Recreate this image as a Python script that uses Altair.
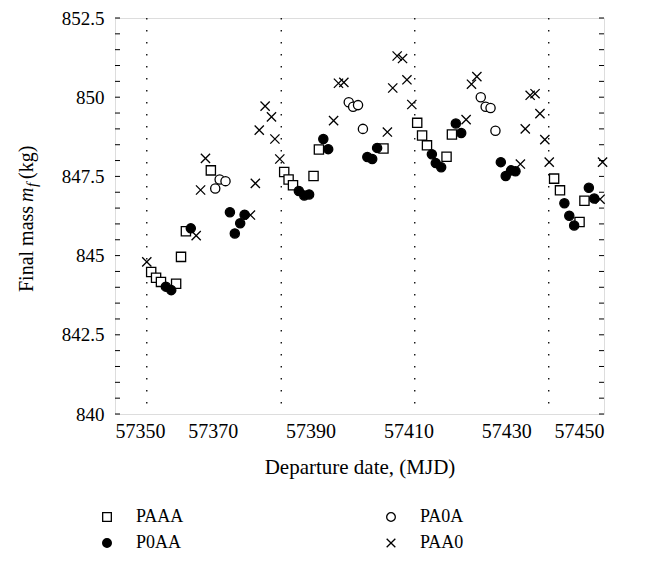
import altair as alt
import pandas as pd

# ---- data ----
PAAA_x = [57357.4, 57358.4, 57359.4, 57362.5, 57363.5, 57364.5, 57369.6, 57384.6, 57385.5, 57386.4,
          57390.6, 57391.7, 57404.9, 57411.8, 57412.8, 57413.8, 57417.8, 57418.9, 57439.8, 57441.0,
          57445.0, 57446.0]
PAAA_y = [844.48, 844.30, 844.17, 844.11, 844.96, 845.77, 847.69, 847.64, 847.40, 847.22,
          847.51, 848.35, 848.38, 849.19, 848.79, 848.48, 848.12, 848.82, 847.43, 847.06,
          846.06, 846.73]

P0AA_x = [57360.4, 57361.5, 57365.5, 57373.5, 57374.5, 57375.6, 57376.5, 57387.6, 57388.7, 57389.7,
          57392.6, 57393.6, 57401.6, 57402.6, 57403.6, 57414.8, 57415.6, 57416.7, 57419.7, 57420.8,
          57428.9, 57429.9, 57431.0, 57431.9, 57441.9, 57442.9, 57443.9, 57446.9, 57448.0]
P0AA_y = [844.02, 843.91, 845.86, 846.37, 845.70, 846.02, 846.29, 847.04, 846.90, 846.93,
          848.68, 848.36, 848.11, 848.05, 848.40, 848.20, 847.92, 847.79, 849.17, 848.87,
          847.95, 847.51, 847.69, 847.66, 846.65, 846.26, 845.95, 847.14, 846.80]

PA0A_x = [57370.5, 57371.4, 57372.6, 57397.8, 57398.7, 57399.7, 57400.7, 57424.8, 57425.8, 57426.8, 57427.8]
PA0A_y = [847.12, 847.40, 847.35, 849.84, 849.70, 849.75, 849.00, 850.00, 849.70, 849.66, 848.94]

PAA0_x = [57356.5, 57366.6, 57367.5, 57368.5, 57377.7, 57378.7, 57379.5, 57380.7, 57382.0, 57382.7,
          57383.7, 57394.7, 57395.7, 57396.8, 57405.7, 57406.8, 57407.7, 57408.8, 57409.7, 57410.7,
          57421.8, 57422.9, 57424.0, 57432.9, 57433.9, 57434.9, 57435.9, 57436.9, 57437.9, 57438.8,
          57449.2, 57449.7]
PAA0_y = [844.80, 845.63, 847.07, 848.07, 846.28, 847.28, 848.96, 849.72, 849.38, 848.68,
          848.05, 849.26, 850.44, 850.47, 848.90, 850.29, 851.30, 851.22, 850.55, 849.77,
          849.29, 850.41, 850.65, 847.89, 849.00, 850.06, 850.11, 849.48, 848.66, 847.95,
          846.78, 847.95]

series_names = ["PAAA", "P0AA", "PA0A", "PAA0"]
divider_dates = [57356.5, 57384.0, 57411.3, 57438.7]
y_minor_ticks = [840 + 0.5 * i for i in range(26)]
x_tick_values = [57350, 57370, 57390, 57410, 57430, 57450]
y_tick_values = [840, 842.5, 845, 847.5, 850, 852.5]

rows = []
for name, xs, ys in [("PAAA", PAAA_x, PAAA_y), ("P0AA", P0AA_x, P0AA_y),
                     ("PA0A", PA0A_x, PA0A_y), ("PAA0", PAA0_x, PAA0_y)]:
    for a, b in zip(xs, ys):
        rows.append({"date": a, "mass": b, "series": name})
df = pd.DataFrame(rows)

W, H = 489, 396
FONT = "Liberation Serif"
xscale = alt.Scale(domain=[57350, 57450], nice=False, zero=False)
yscale = alt.Scale(domain=[840, 852.5], nice=False, zero=False)

xaxis = alt.Axis(values=x_tick_values, format="d", ticks=False, domain=False, grid=False,
                 labelFont=FONT, labelFontSize=20, labelColor="black", labelPadding=7,
                 title="Departure date, (MJD)", titleFont=FONT, titleFontSize=21,
                 titleFontWeight="normal", titleColor="black", titlePadding=15)
yaxis = alt.Axis(values=y_tick_values, format=".4~g", ticks=False, domain=False, grid=False,
                 labelFont=FONT, labelFontSize=19, labelColor="black", labelPadding=11,
                 title=None)

cross = "M-1,-1L1,1M-1,1L1,-1"

legend = alt.Legend(title=None, orient="none", columns=2, legendX=-17, legendY=490,
                    columnPadding=198, rowPadding=8, labelFont=FONT, labelFontSize=18,
                    labelColor="black", symbolSize=75, symbolStrokeWidth=1.3, labelOffset=20)

points = alt.Chart(df).mark_point(strokeWidth=1.3, opacity=1, size=85).encode(
    x=alt.X("date:Q", scale=xscale, axis=xaxis),
    y=alt.Y("mass:Q", scale=yscale, axis=yaxis),
    shape=alt.Shape("series:N", scale=alt.Scale(domain=series_names,
                                                range=["square", "circle", "circle", cross]),
                    legend=legend),
    fill=alt.Fill("series:N", scale=alt.Scale(domain=series_names,
                                              range=["white", "black", "white", "white"]),
                  legend=legend),
    stroke=alt.Stroke("series:N", scale=alt.Scale(domain=series_names,
                                                  range=["black", "black", "black", "black"]),
                      legend=legend),
)

div_df = pd.DataFrame({"date": divider_dates})
dividers = alt.Chart(div_df).mark_rule(color="black", strokeWidth=1.3, strokeDash=[1.5, 10.5]).encode(
    x=alt.X("date:Q", scale=xscale, axis=xaxis)
)

tick_df = pd.DataFrame({"mass": y_minor_ticks})
left_ticks = alt.Chart(tick_df).mark_rule(color="black", strokeWidth=1).encode(
    y=alt.Y("mass:Q", scale=yscale, axis=yaxis), x=alt.value(0), x2=alt.value(5)
)
right_ticks = alt.Chart(tick_df).mark_rule(color="black", strokeWidth=1).encode(
    y=alt.Y("mass:Q", scale=yscale, axis=yaxis), x=alt.value(W - 5), x2=alt.value(W)
)

TX = -88
t1 = alt.Chart().mark_text(text="Final mass", angle=270, align="left", baseline="middle",
                           font=FONT, fontSize=20, color="black").encode(x=alt.value(TX), y=alt.value(274))
t2 = alt.Chart().mark_text(text="m", angle=270, align="left", baseline="middle", font=FONT,
                           fontStyle="italic", fontSize=20, color="black").encode(x=alt.value(TX), y=alt.value(184))
t3 = alt.Chart().mark_text(text="f", angle=270, align="left", baseline="middle", font=FONT,
                           fontStyle="italic", fontSize=15, color="black").encode(x=alt.value(TX + 5), y=alt.value(169))
t4 = alt.Chart().mark_text(text="(kg)", angle=270, align="left", baseline="middle", font=FONT,
                           fontSize=20, color="black").encode(x=alt.value(TX), y=alt.value(161))

chart = alt.layer(dividers, left_ticks, right_ticks, points, t1, t2, t3, t4).properties(
    width=W, height=H,
    autosize=alt.AutoSizeParams(type="none"),
    padding={"left": 107, "top": 10, "right": 42, "bottom": 147},
).configure_view(stroke="black", strokeWidth=1.5).configure(background="white")

chart.save("out.html", embed_options={"renderer": "svg", "actions": False})
